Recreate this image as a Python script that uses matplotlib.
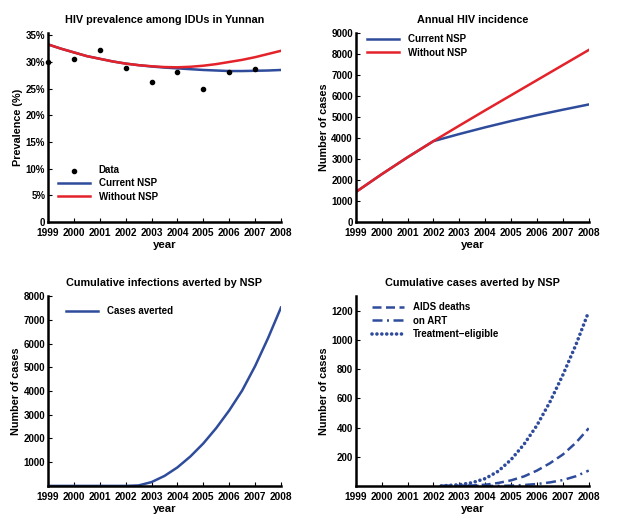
import matplotlib
matplotlib.use("Agg")
import matplotlib.pyplot as plt
from matplotlib.ticker import FuncFormatter

plt.rcParams['font.family'] = ['Liberation Sans', 'DejaVu Sans']
plt.rcParams['font.weight'] = 'bold'

BLUE = "#2f4c9c"
RED = "#e3222a"

# --- panel 1: prevalence ---
data_years = [1999, 2000, 2001, 2002, 2003, 2004, 2005, 2006, 2007]
data_prev = [30.0, 30.6, 32.3, 28.8, 26.2, 28.2, 25.0, 28.2, 28.6]

prev_t = [1999, 1999.5, 2000, 2000.5, 2001, 2001.5, 2002, 2002.5, 2003, 2003.5,
          2004, 2004.5, 2005, 2005.5, 2006, 2006.5, 2007, 2007.5, 2008]
prev_without = [33.3, 32.5, 31.8, 31.1, 30.6, 30.1, 29.7, 29.4, 29.2, 29.05,
                29.0, 29.1, 29.3, 29.6, 30.0, 30.4, 30.9, 31.5, 32.1]
prev_current = [33.3, 32.5, 31.8, 31.1, 30.6, 30.1, 29.7, 29.4, 29.15, 28.95,
                28.8, 28.65, 28.5, 28.4, 28.3, 28.3, 28.35, 28.4, 28.5]

# --- panel 2: annual incidence ---
years = [1999, 2000, 2001, 2002, 2003, 2004, 2005, 2006, 2007, 2008]
inc_without = [1420, 2270, 3080, 3850, 4590, 5320, 6040, 6760, 7480, 8200]
inc_current = [1420, 2270, 3080, 3850, 4190, 4510, 4810, 5090, 5350, 5600]

# --- panel 3: cumulative infections averted ---
avert_t = [1999, 2000, 2001, 2002, 2002.5, 2003, 2003.5, 2004, 2004.5, 2005,
           2005.5, 2006, 2006.5, 2007, 2007.5, 2008]
averted = [0, 0, 0, 0, 20, 160, 420, 780, 1240, 1790,
           2440, 3180, 4020, 5050, 6230, 7520]

# --- panel 4: cumulative cases averted ---
case_t = [2002.3, 2003, 2003.5, 2004, 2004.5, 2005, 2005.5, 2006, 2006.5, 2007, 2007.5, 2008]
aids_deaths = [0, 1, 3, 8, 20, 38, 65, 105, 155, 215, 295, 395]
on_art = [0, 0, 0, 0, 0, 2, 6, 13, 24, 40, 66, 105]
treat_elig = [0, 8, 22, 50, 100, 180, 285, 415, 575, 760, 965, 1195]

year_ticks = list(range(1999, 2009))

fig = plt.figure(figsize=(6.23, 5.27), dpi=100)
positions = [
    [0.077, 0.579, 0.374, 0.358],
    [0.571, 0.579, 0.374, 0.358],
    [0.077, 0.078, 0.374, 0.360],
    [0.571, 0.078, 0.374, 0.360],
]
axes = [fig.add_axes(p) for p in positions]

for ax in axes:
    for s in ['top', 'right']:
        ax.spines[s].set_visible(False)
    for s in ['left', 'bottom']:
        ax.spines[s].set_linewidth(1.8)
    ax.set_xlim(1999, 2008)
    ax.set_xticks(year_ticks)
    ax.tick_params(direction='in', length=3, width=0.8)
    ax.tick_params(axis='x', labelsize=7.3, pad=4.5)
    ax.tick_params(axis='y', labelsize=7.0, pad=2)
    ax.set_xlabel("year", fontsize=8.2, fontweight='bold', labelpad=1)

legend_kw = dict(frameon=False, handlelength=3.3, handletextpad=0.9,
                 borderpad=0, borderaxespad=0, labelspacing=0.35,
                 prop={'weight': 'bold', 'size': 7})

# panel 1
ax = axes[0]
ax.scatter(data_years, data_prev, s=9, color='black', zorder=3, label="Data", clip_on=False)
ax.plot(prev_t, prev_current, color=BLUE, lw=1.8, label="Current NSP")
ax.plot(prev_t, prev_without, color=RED, lw=1.8, label="Without NSP")
ax.set_ylim(0, 35.4)
ax.set_yticks([0, 5, 10, 15, 20, 25, 30, 35])
ax.yaxis.set_major_formatter(FuncFormatter(lambda v, p: "0" if v == 0 else f"{v:.0f}%"))
ax.set_ylabel("Prevalence (%)", fontsize=7.8, fontweight='bold', labelpad=2)
ax.set_title("HIV prevalence among IDUs in Yunnan", fontsize=7.8, fontweight='bold', pad=7)
ax.legend(loc='lower left', bbox_to_anchor=(0.043, 0.106), **legend_kw)

# panel 2
ax = axes[1]
ax.plot(years, inc_current, color=BLUE, lw=1.8, label="Current NSP")
ax.plot(years, inc_without, color=RED, lw=1.8, label="Without NSP")
ax.set_ylim(0, 9000)
ax.set_yticks(range(0, 9001, 1000))
ax.set_ylabel("Number of cases", fontsize=7.8, fontweight='bold', labelpad=2)
ax.set_title("Annual HIV incidence", fontsize=7.8, fontweight='bold', pad=7)
ax.legend(loc='upper left', bbox_to_anchor=(0.047, 0.995), **legend_kw)

# panel 3
ax = axes[2]
ax.plot(avert_t, averted, color=BLUE, lw=1.8, label="Cases averted")
ax.set_ylim(0, 8000)
ax.set_yticks(range(1000, 8001, 1000))
ax.set_ylabel("Number of cases", fontsize=7.8, fontweight='bold', labelpad=2)
ax.set_title("Cumulative infections averted by NSP", fontsize=7.8, fontweight='bold', pad=7)
ax.legend(loc='upper left', bbox_to_anchor=(0.077, 0.947), **legend_kw)

# panel 4
ax = axes[3]
ax.plot(case_t, aids_deaths, color=BLUE, lw=1.8, linestyle=(0, (3.6, 1.8)), label="AIDS deaths")
ax.plot(case_t, on_art, color=BLUE, lw=1.8, linestyle=(0, (4, 1.8, 0.8, 1.8)), label="on ART")
ax.plot(case_t, treat_elig, color=BLUE, lw=2.6, linestyle=(0, (0.01, 1.35)),
        dash_capstyle='round', label="Treatment\u2212eligible")
ax.set_ylim(0, 1300)
ax.set_yticks(range(200, 1201, 200))
ax.set_ylabel("Number of cases", fontsize=7.8, fontweight='bold', labelpad=2)
ax.set_title("Cumulative cases averted by NSP", fontsize=7.8, fontweight='bold', pad=7)
ax.legend(loc='upper left', bbox_to_anchor=(0.069, 0.968), **legend_kw)

fig.savefig("out.png", dpi=100)
